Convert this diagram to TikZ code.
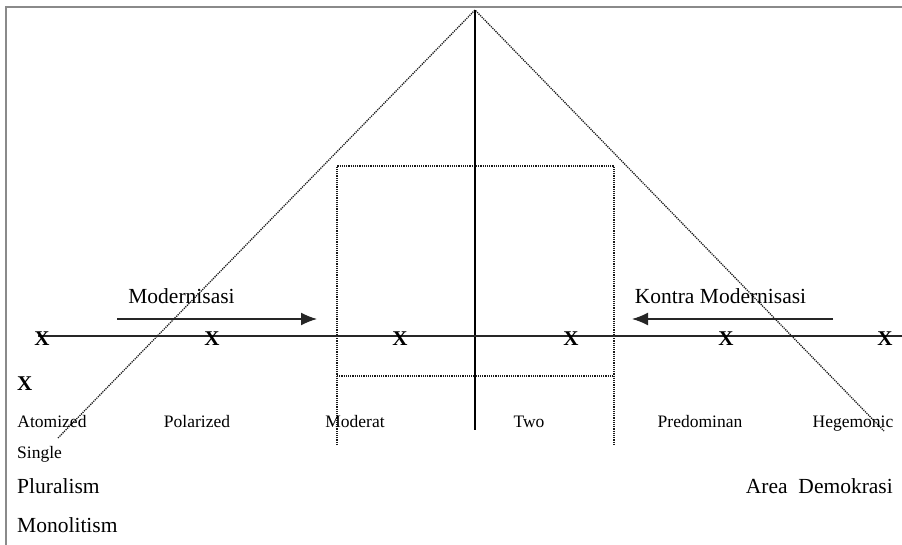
\documentclass[tikz,border=0pt]{standalone}
\usepackage{fontspec}
\setmainfont{Liberation Serif}
\usetikzlibrary{arrows.meta}
\definecolor{FrameGray}{HTML}{8A8A8A}
\definecolor{AxisInk}{HTML}{262626}
\definecolor{DotInk}{HTML}{1A1A1A}

\begin{document}
\begin{tikzpicture}[x=1pt,y=-1pt,
    lbl/.style={inner sep=0pt,anchor=base,font=\fontsize{17.5}{20}\selectfont},
    big/.style={inner sep=0pt,anchor=base,font=\fontsize{21.5}{24}\selectfont},
    xmk/.style={inner sep=0pt,anchor=base,font=\fontsize{21}{24}\selectfont\bfseries},
    dots/.style={dash pattern=on 1.2pt off 1pt,line width=1.3pt,DotInk},
    arr/.style={-{Latex[length=16pt,width=13pt]},line width=1.4pt,AxisInk}]
    \useasboundingbox (0,0) rectangle (902,545);
    \draw[FrameGray,line width=2pt] (6,545) |- (902,7);
    % points of the cone, axis and box
    \coordinate (apex) at (475,10);
    \coordinate (lfoot) at (58,438);
    \coordinate (rfoot) at (884,431);
    \coordinate (vbot) at (475,430);
    \coordinate (axl) at (38,336);
    \coordinate (axr) at (902,336);
    \coordinate (boxtl) at (337,166);
    \coordinate (boxtr) at (614,166);
    \coordinate (boxbl) at (337,445);
    \coordinate (boxbr) at (614,445);
    \coordinate (innl) at (337,376);
    \coordinate (innr) at (614,376);
    \coordinate (modfrom) at (117,319);
    \coordinate (modto) at (317,319);
    \coordinate (konfrom) at (833,319);
    \coordinate (konto) at (632,319);
    \draw[dots] (lfoot) -- (apex) -- (rfoot);
    \draw[dots] (boxbl) -- (boxtl) -- (boxtr) -- (boxbr);
    \draw[dots] (innl) -- (innr);
    \draw[line width=1.5pt,black] (apex) -- (vbot);
    \draw[line width=2pt,AxisInk] (axl) -- (axr);
    \draw[arr] (modfrom) -- (modto);
    \draw[arr] (konfrom) -- (konto);
    % labels
    \node[big] (modern) at (181.5,303) {Modernisasi};
    \node[big] (kontra) at (720.5,303) {Kontra Modernisasi};
    \foreach \px/\nm in {42/xa,212/xb,400/xc,571/xd,726/xe,885/xf}
      {\node[xmk] (\nm) at (\px,345) {X};}
    \node[xmk,anchor=base west] (bigx) at (17,390) {X};
    \node[lbl] (atom) at (52,427) {Atomized};
    \node[lbl] (polar) at (197,427) {Polarized};
    \node[lbl] (moder) at (355,427) {Moderat};
    \node[lbl] (two) at (529,427) {Two};
    \node[lbl] (predom) at (700,427) {Predominan};
    \node[lbl] (hegem) at (853,427) {Hegemonic};
    \node[lbl,anchor=base west] (single) at (17,458) {Single};
    \node[big,anchor=base west] (plural) at (17,493) {Pluralism};
    \node[big,anchor=base west] (mono) at (17,532) {Monolitism};
    \node[big,anchor=base east] (demo) at (893,493) {Area\ \ Demokrasi};
\end{tikzpicture}
\end{document}
